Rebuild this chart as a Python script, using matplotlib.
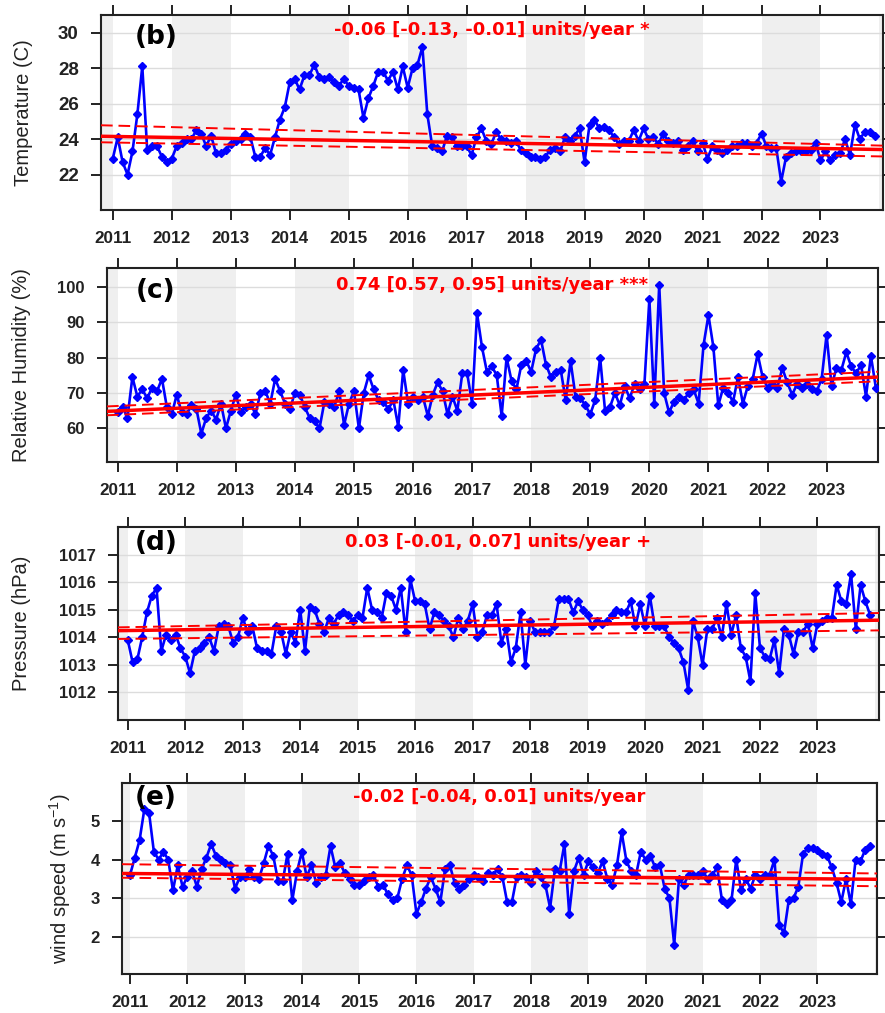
import matplotlib
matplotlib.use("Agg")
import matplotlib.pyplot as plt
import numpy as np

plt.rcParams['font.family'] = ['Liberation Sans', 'DejaVu Sans']
plt.rcParams['mathtext.default'] = 'regular'

# ---------------- data (monthly, starting Jan 2011) ----------------
temperature = [
    22.9, 24.1, 22.7, 22.0, 23.3, 25.4, 28.1, 23.4, 23.6, 23.6, 23.0, 22.7,
    22.9, 23.6, 23.8, 24.0, 24.0, 24.5, 24.3, 23.6, 24.2, 23.2, 23.2, 23.4,
    23.7, 23.9, 24.0, 24.3, 24.1, 23.0, 23.0, 23.5, 23.1, 24.1, 25.1, 25.8,
    27.2, 27.4, 26.8, 27.6, 27.6, 28.2, 27.5, 27.4, 27.5, 27.2, 27.0, 27.4,
    27.0, 26.9, 26.8, 25.2, 26.3, 27.0, 27.8, 27.8, 27.3, 27.8, 26.8, 28.1,
    26.9, 28.0, 28.2, 29.2, 25.4, 23.6, 23.5, 23.3, 24.2, 24.1, 23.6, 23.6,
    23.6, 23.1, 24.1, 24.6, 23.9, 23.7, 24.4, 24.0, 23.9, 23.8, 23.9, 23.4,
    23.2, 23.0, 23.0, 22.9, 23.0, 23.4, 23.5, 23.3, 24.1, 23.9, 24.2, 24.6,
    22.7, 24.8, 25.1, 24.6, 24.7, 24.5, 24.1, 23.7, 23.9, 23.9, 24.5, 23.9,
    24.6, 24.0, 24.1, 23.7, 24.3, 23.9, 23.8, 23.9, 23.4, 23.6, 23.9, 23.3,
    23.8, 22.9, 23.6, 23.4, 23.2, 23.4, 23.6, 23.6, 23.8, 23.8, 23.6, 23.8,
    24.3, 23.6, 23.5, 23.5, 21.6, 23.0, 23.2, 23.3, 23.3, 23.3, 23.4, 23.8,
    22.8, 23.3, 22.8, 23.1, 23.2, 24.0, 23.1, 24.8, 24.0, 24.4, 24.4, 24.2,
]
humidity = [
    64.5, 66, 63, 74.5, 69, 71, 68.5, 71.5, 70.5, 74, 66, 64,
    69.5, 64.5, 64, 66.5, 65.5, 58.5, 63, 65, 62.5, 67, 60, 65,
    69.5, 64.5, 66, 67, 64, 70, 70.5, 67, 74, 70.5, 67, 65.5,
    70, 69.5, 66, 63, 62, 60, 67.5, 67, 66, 70.5, 61, 67,
    70.5, 60, 70, 75, 71, 68, 67.5, 65.5, 68, 60.5, 76.5, 67,
    69, 68, 69, 63.5, 69.5, 73, 70.5, 64, 69, 65, 75.5, 75.5,
    67, 92.5, 83, 76, 77.5, 75, 63.5, 80, 73.5, 71, 78, 79,
    76, 82.5, 85, 78, 74.5, 76, 76.5, 68, 79, 69, 68.5, 66.5,
    64, 68, 80, 65, 66, 70, 66.5, 72, 68.5, 72.5, 71, 72.5,
    96.5, 67, 100.5, 70, 64.5, 67.5, 69, 68, 70, 71, 67, 83.5,
    92, 83, 66.5, 71.5, 70, 67.5, 74.5, 67, 72, 74, 81, 74.5,
    71.5, 72.5, 71.5, 77, 73, 69.5, 72.5, 71.5, 72.5, 71, 70.5, 74,
    86.5, 72, 77, 76.5, 81.5, 77.5, 75.5, 78, 69, 80.5, 71.5,
]
pressure = [
    1013.9, 1013.1, 1013.2, 1014.0, 1014.9, 1015.5, 1015.8, 1013.5, 1014.1, 1013.9, 1014.1, 1013.6,
    1013.3, 1012.7, 1013.5, 1013.6, 1013.8, 1014.0, 1013.5, 1014.4, 1014.5, 1014.4, 1013.8, 1014.0,
    1014.7, 1014.2, 1014.4, 1013.6, 1013.5, 1013.5, 1013.4, 1014.4, 1014.2, 1013.4, 1014.2, 1013.8,
    1015.0, 1013.5, 1015.1, 1015.0, 1014.5, 1014.2, 1014.7, 1014.5, 1014.8, 1014.9, 1014.8, 1014.6,
    1014.8, 1014.7, 1015.8, 1015.0, 1014.9, 1014.7, 1015.6, 1015.5, 1015.0, 1015.8, 1014.2, 1016.1,
    1015.3, 1015.3, 1015.2, 1014.3, 1014.9, 1014.8, 1014.6, 1014.4, 1014.0, 1014.7, 1014.3, 1014.6,
    1015.2, 1014.0, 1014.2, 1014.8, 1014.8, 1015.2, 1013.8, 1014.3, 1013.1, 1013.6, 1014.9, 1013.0,
    1014.6, 1014.2, 1014.2, 1014.2, 1014.2, 1014.4, 1015.4, 1015.4, 1015.4, 1014.9, 1015.3, 1015.0,
    1014.8, 1014.4, 1014.6, 1014.5, 1014.6, 1014.8, 1015.0, 1014.9, 1014.9, 1015.3, 1014.4, 1015.2,
    1014.4, 1015.5, 1014.4, 1014.4, 1014.4, 1014.0, 1013.8, 1013.6, 1013.1, 1012.1, 1014.6, 1014.0,
    1013.0, 1014.3, 1014.3, 1014.7, 1014.0, 1015.2, 1014.1, 1014.8, 1013.6, 1013.3, 1012.4, 1015.6,
    1013.6, 1013.3, 1013.2, 1013.9, 1012.7, 1014.3, 1014.1, 1013.4, 1014.2, 1014.2, 1014.5, 1013.6,
    1014.5, 1014.6, 1014.7, 1014.7, 1015.9, 1015.3, 1015.2, 1016.3, 1014.3, 1015.9, 1015.3, 1014.8,
]
wind = [
    3.6, 4.05, 4.5, 5.3, 5.2, 4.2, 4.0, 4.2, 4.0, 3.2, 3.85, 3.3,
    3.55, 3.7, 3.3, 3.75, 4.05, 4.4, 4.1, 4.0, 3.9, 3.85, 3.25, 3.55,
    3.55, 3.75, 3.55, 3.5, 3.9, 4.35, 4.1, 3.45, 3.45, 4.15, 2.95, 3.7,
    4.2, 3.55, 3.85, 3.4, 3.55, 3.6, 4.35, 3.8, 3.9, 3.65, 3.5, 3.35,
    3.35, 3.45, 3.55, 3.6, 3.3, 3.35, 3.1, 2.95, 3.0, 3.5, 3.85, 3.6,
    2.6, 2.9, 3.25, 3.55, 3.25, 2.9, 3.75, 3.85, 3.4, 3.25, 3.35, 3.5,
    3.6, 3.55, 3.45, 3.65, 3.6, 3.75, 3.55, 2.9, 2.9, 3.55, 3.6, 3.55,
    3.4, 3.7, 3.55, 3.35, 2.75, 3.75, 3.7, 4.4, 2.6, 3.7, 4.05, 3.6,
    3.95, 3.8, 3.65, 3.95, 3.5, 3.35, 3.85, 4.7, 3.95, 3.7, 3.6, 4.2,
    4.0, 4.1, 3.8, 3.85, 3.25, 3.0, 1.8, 3.5, 3.35, 3.6, 3.6, 3.6,
    3.7, 3.5, 3.6, 3.8, 2.95, 2.85, 2.95, 4.0, 3.2, 3.5, 3.25, 3.6,
    3.5, 3.6, 3.6, 4.0, 2.3, 2.1, 2.95, 3.0, 3.3, 4.15, 4.3, 4.3,
    4.25, 4.15, 4.1, 3.8, 3.4, 2.9, 3.5, 2.85, 4.0, 3.95, 4.25, 4.35,
]

start_year = 2011
year_ticks = list(range(2011, 2024))
year_labels = [str(y) for y in year_ticks]

panel_labels = ['(b)', '(c)', '(d)', '(e)']
y_titles = ['Temperature (C)', 'Relative Humidity (%)', 'Pressure (hPa)',
            'wind speed (m s$^{-1}$)']
trend_texts = ['-0.06 [-0.13, -0.01] units/year *',
               '0.74 [0.57, 0.95] units/year ***',
               '0.03 [-0.01, 0.07] units/year +',
               '-0.02 [-0.04, 0.01] units/year']
# trend line values at left / right edge of panel: (central, upper, lower)
trend_left = [(24.16, 24.78, 23.82), (64.8, 66.2, 63.7),
              (1014.24, 1014.36, 1013.94), (3.64, 3.88, 3.53)]
trend_right = [(23.41, 23.63, 23.02), (74.5, 76.0, 73.3),
               (1014.62, 1014.88, 1014.25), (3.49, 3.64, 3.31)]
y_ticks = [[22, 24, 26, 28, 30], [60, 70, 80, 90, 100],
           [1012, 1013, 1014, 1015, 1016, 1017], [2, 3, 4, 5]]

series = [temperature, humidity, pressure, wind]

# ---------------- layout ----------------
W, H = 885, 1013
fig = plt.figure(figsize=(W / 100, H / 100), dpi=100)

rects_px = [(101, 15, 883, 210), (107, 268, 878, 462),
            (118, 527, 879, 720), (122, 783, 877, 974)]
ylims = [(20.0, 31.0), (50.5, 105.3), (1011.0, 1018.0), (1.04, 5.98)]
xlims = [(2010.80, 2024.06), (2010.82, 2023.87),
         (2010.83, 2024.07), (2010.86, 2024.04)]
ylabel_x = [24, 22, 22, 60]
ytick_size = [13.5, 12, 12, 12]
label_dy = [22, 23, 16, 15]
text_dy = [15, 17, 15, 14]


def fx(px):
    return px / W


def fy(py):
    return 1 - py / H


for i in range(4):
    l, t, r, b = rects_px[i]
    ax = fig.add_axes([l / W, 1 - b / H, (r - l) / W, (b - t) / H])
    x0, x1 = xlims[i]
    ax.set_xlim(x0, x1)
    ax.set_ylim(*ylims[i])

    # alternating year shading
    for yr in range(2010, 2025, 2):
        ax.axvspan(yr, yr + 1, color='#EFEFEF', lw=0, zorder=0)
    # horizontal grid
    for yt in y_ticks[i]:
        ax.axhline(yt, color='#DCDCDC', lw=1.0, zorder=1)

    vals = series[i]
    xs = start_year + np.arange(len(vals)) / 12.0
    ax.plot(xs, vals, color='#0000FF', lw=1.9, marker='D', ms=4.3,
            zorder=3)

    cl, ul, ll = trend_left[i]
    cr, ur, lr = trend_right[i]
    ax.plot([x0, x1], [cl, cr], color='#FF0000', lw=2.5, zorder=4)
    ax.plot([x0, x1], [ul, ur], color='#FF0000', lw=1.4, ls=(0, (6, 3)),
            zorder=4)
    ax.plot([x0, x1], [ll, lr], color='#FF0000', lw=1.4, ls=(0, (6, 3)),
            zorder=4)

    ax.set_xticks(year_ticks)
    ax.set_xticklabels(year_labels, fontsize=12.3, fontweight='bold',
                       color='#222222')
    ax.set_yticks(y_ticks[i])
    ax.set_yticklabels([str(v) for v in y_ticks[i]], fontsize=ytick_size[i],
                       fontweight='bold', color='#222222')
    ax.tick_params(axis='x', which='both', direction='out', length=7,
                   width=1.4, top=True, bottom=True, pad=8, color='#222222')
    ax.tick_params(axis='y', which='both', direction='out', length=7,
                   width=1.4, left=True, right=True, pad=9, color='#222222')
    for sp in ax.spines.values():
        sp.set_linewidth(1.5)
        sp.set_color('#222222')

    # y title
    fig.text(fx(ylabel_x[i]), fy((t + b) / 2), y_titles[i], rotation=90,
             ha='center', va='center', fontsize=14.5, color='#222222')
    # panel letter
    fig.text(fx(156), fy(t + label_dy[i]), panel_labels[i], ha='center',
             va='center', fontsize=19, fontweight='bold', color='black',
             family='DejaVu Sans')
    # trend annotation
    fig.text(fx((l + r) / 2), fy(t + text_dy[i]), trend_texts[i],
             ha='center', va='center', fontsize=13, fontweight='bold',
             color='#FF0000', family='DejaVu Sans')

fig.savefig('out.png', dpi=100)
